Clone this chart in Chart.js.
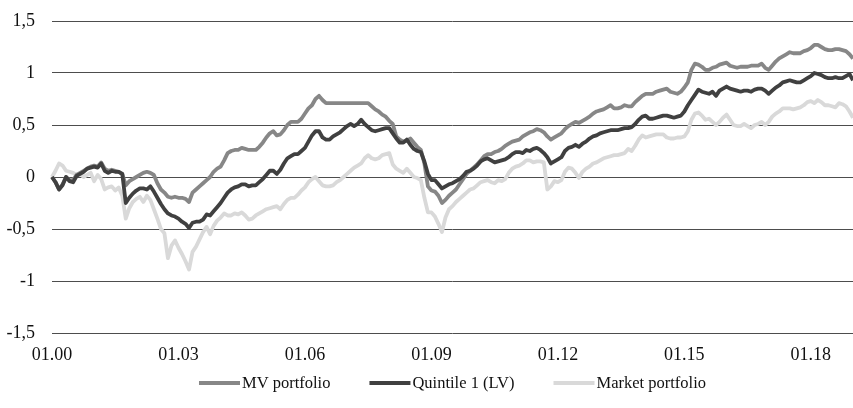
<!DOCTYPE html>
<html>
<head>
<meta charset="utf-8">
<script src="https://cdn.jsdelivr.net/npm/chart.js@4.4.0/dist/chart.umd.min.js"></script>
<style>
  body { margin: 0; background: #fff; }
  #chartBox { width: 853px; height: 408px; }
</style>
</head>
<body>
<div id="chartBox"><canvas id="myChart"></canvas></div>
<script>
// monthly data, Jan 2000 .. Jan 2019 (one row per year)
const startYear = 2000;
const tickLabels = ["01.00", "01.03", "01.06", "01.09", "01.12", "01.15", "01.18"];

const mvPortfolio = [
  0, -0.05, -0.12, -0.07, 0.00, -0.03, -0.03, 0.02, 0.04, 0.06, 0.08, 0.10,
  0.11, 0.10, 0.14, 0.08, 0.06, 0.07, 0.06, 0.05, 0.03, -0.08, -0.04, -0.02,
  0.00, 0.02, 0.04, 0.05, 0.04, 0.02, -0.06, -0.12, -0.15, -0.19, -0.20, -0.19,
  -0.20, -0.20, -0.21, -0.24, -0.15, -0.12, -0.09, -0.06, -0.03, 0.00, 0.05, 0.08,
  0.10, 0.16, 0.23, 0.25, 0.26, 0.26, 0.28, 0.27, 0.26, 0.26, 0.26, 0.29,
  0.33, 0.38, 0.42, 0.44, 0.40, 0.41, 0.45, 0.50, 0.53, 0.53, 0.53, 0.56,
  0.61, 0.66, 0.69, 0.75, 0.78, 0.74, 0.71, 0.71, 0.71, 0.71, 0.71, 0.71,
  0.71, 0.71, 0.71, 0.71, 0.71, 0.71, 0.71, 0.68, 0.65, 0.63, 0.60, 0.58,
  0.54, 0.51, 0.39, 0.36, 0.34, 0.35, 0.37, 0.33, 0.29, 0.26, 0.13, -0.09,
  -0.13, -0.14, -0.18, -0.25, -0.22, -0.18, -0.15, -0.12, -0.07, -0.02, 0.03, 0.06,
  0.09, 0.12, 0.16, 0.20, 0.22, 0.22, 0.24, 0.25, 0.27, 0.30, 0.32, 0.34,
  0.35, 0.36, 0.39, 0.41, 0.43, 0.44, 0.46, 0.45, 0.43, 0.39, 0.36, 0.38,
  0.40, 0.42, 0.46, 0.49, 0.51, 0.53, 0.52, 0.54, 0.56, 0.58, 0.61, 0.63,
  0.64, 0.65, 0.67, 0.69, 0.66, 0.66, 0.67, 0.69, 0.68, 0.68, 0.72, 0.75,
  0.78, 0.80, 0.80, 0.80, 0.82, 0.83, 0.84, 0.85, 0.82, 0.81, 0.80, 0.82,
  0.86, 0.91, 1.03, 1.09, 1.08, 1.06, 1.03, 1.03, 1.05, 1.06, 1.08, 1.09,
  1.10, 1.07, 1.06, 1.05, 1.06, 1.06, 1.06, 1.07, 1.07, 1.07, 1.09, 1.05,
  1.03, 1.07, 1.11, 1.14, 1.16, 1.18, 1.20, 1.19, 1.19, 1.19, 1.21, 1.22,
  1.24, 1.27, 1.27, 1.25, 1.23, 1.22, 1.22, 1.23, 1.23, 1.22, 1.21, 1.18,
  1.14
];

const quintile1 = [
  0, -0.05, -0.12, -0.08, 0.00, -0.04, -0.05, 0.01, 0.03, 0.05, 0.08, 0.09,
  0.10, 0.09, 0.13, 0.06, 0.04, 0.06, 0.05, 0.05, 0.03, -0.25, -0.20, -0.16,
  -0.13, -0.11, -0.11, -0.12, -0.09, -0.14, -0.20, -0.26, -0.31, -0.35, -0.37, -0.38,
  -0.40, -0.43, -0.45, -0.49, -0.44, -0.43, -0.43, -0.41, -0.36, -0.37, -0.33, -0.29,
  -0.25, -0.20, -0.15, -0.12, -0.10, -0.09, -0.07, -0.07, -0.09, -0.08, -0.08, -0.05,
  -0.02, 0.02, 0.06, 0.06, 0.03, 0.07, 0.13, 0.18, 0.20, 0.22, 0.22, 0.25,
  0.28, 0.34, 0.40, 0.44, 0.44, 0.38, 0.36, 0.36, 0.39, 0.41, 0.43, 0.46,
  0.49, 0.51, 0.49, 0.51, 0.55, 0.51, 0.48, 0.45, 0.44, 0.45, 0.46, 0.47,
  0.47, 0.42, 0.37, 0.33, 0.33, 0.36, 0.31, 0.27, 0.25, 0.24, 0.15, 0.03,
  -0.03, -0.03, -0.07, -0.11, -0.09, -0.07, -0.06, -0.04, -0.02, 0.01, 0.05, 0.06,
  0.08, 0.11, 0.15, 0.17, 0.18, 0.16, 0.14, 0.15, 0.16, 0.17, 0.19, 0.22,
  0.24, 0.24, 0.23, 0.26, 0.25, 0.27, 0.28, 0.26, 0.23, 0.19, 0.13, 0.15,
  0.17, 0.19, 0.25, 0.28, 0.29, 0.31, 0.29, 0.32, 0.34, 0.37, 0.39, 0.40,
  0.42, 0.43, 0.44, 0.45, 0.45, 0.45, 0.46, 0.47, 0.47, 0.48, 0.51, 0.55,
  0.58, 0.59, 0.56, 0.56, 0.57, 0.58, 0.59, 0.59, 0.58, 0.57, 0.58, 0.59,
  0.63, 0.69, 0.74, 0.79, 0.84, 0.82, 0.81, 0.80, 0.82, 0.78, 0.83, 0.85,
  0.87, 0.85, 0.84, 0.83, 0.82, 0.83, 0.83, 0.82, 0.84, 0.85, 0.85, 0.83,
  0.80, 0.83, 0.86, 0.88, 0.91, 0.92, 0.93, 0.92, 0.91, 0.91, 0.93, 0.95,
  0.97, 1.00, 0.99, 0.98, 0.96, 0.95, 0.95, 0.96, 0.95, 0.95, 0.97, 0.99,
  0.93
];

const marketPortfolio = [
  0, 0.06, 0.13, 0.11, 0.06, 0.05, 0.04, 0.02, 0.03, 0.00, 0.02, 0.04,
  -0.04, 0.02, -0.02, -0.12, -0.10, -0.09, -0.13, -0.10, -0.18, -0.40, -0.30, -0.24,
  -0.21, -0.19, -0.24, -0.18, -0.22, -0.31, -0.40, -0.50, -0.54, -0.78, -0.66, -0.61,
  -0.68, -0.74, -0.81, -0.89, -0.72, -0.67, -0.60, -0.53, -0.48, -0.55, -0.47, -0.42,
  -0.39, -0.35, -0.37, -0.37, -0.35, -0.36, -0.34, -0.37, -0.41, -0.40, -0.37, -0.35,
  -0.33, -0.31, -0.30, -0.29, -0.28, -0.31, -0.26, -0.22, -0.20, -0.20, -0.17, -0.13,
  -0.10, -0.05, -0.02, 0.00, -0.04, -0.08, -0.09, -0.09, -0.08, -0.05, -0.03, 0.00,
  0.03, 0.06, 0.09, 0.11, 0.13, 0.18, 0.21, 0.18, 0.17, 0.18, 0.21, 0.22,
  0.23, 0.12, 0.08, 0.06, 0.04, 0.08, 0.04, 0.00, -0.01, -0.03, -0.20, -0.34,
  -0.34, -0.38, -0.45, -0.53, -0.39, -0.31, -0.28, -0.24, -0.21, -0.18, -0.15, -0.12,
  -0.11, -0.08, -0.05, -0.04, -0.03, -0.05, -0.06, -0.03, -0.04, -0.02, 0.04, 0.08,
  0.10, 0.11, 0.13, 0.16, 0.16, 0.14, 0.15, 0.15, 0.14, -0.12, -0.09, -0.04,
  -0.05, -0.03, 0.05, 0.09, 0.08, 0.04, -0.01, 0.05, 0.08, 0.10, 0.13, 0.14,
  0.16, 0.18, 0.19, 0.20, 0.21, 0.21, 0.22, 0.23, 0.27, 0.25, 0.30, 0.36,
  0.40, 0.38, 0.39, 0.40, 0.41, 0.41, 0.41, 0.38, 0.37, 0.37, 0.38, 0.38,
  0.39, 0.44, 0.55, 0.61, 0.62, 0.59, 0.55, 0.56, 0.53, 0.50, 0.53, 0.57,
  0.60, 0.55, 0.50, 0.49, 0.49, 0.51, 0.49, 0.47, 0.50, 0.51, 0.53, 0.50,
  0.53, 0.58, 0.61, 0.63, 0.66, 0.66, 0.66, 0.65, 0.66, 0.67, 0.69, 0.72,
  0.73, 0.71, 0.74, 0.72, 0.69, 0.69, 0.68, 0.67, 0.71, 0.70, 0.68, 0.63,
  0.57
];

// category labels mm.yy
const months = [];
for (let i = 0; i < mvPortfolio.length; i++) {
  const mm = String(i % 12 + 1).padStart(2, "0");
  const yy = String((startYear + Math.floor(i / 12)) % 100).padStart(2, "0");
  months.push(mm + "." + yy);
}

const serif = "'Liberation Serif', 'DejaVu Serif', serif";
Chart.defaults.font.family = serif;
Chart.defaults.font.size = 18;
Chart.defaults.color = "#111";

function lineSet(label, data, color, order) {
  return {
    label: label,
    data: data,
    borderColor: color,
    backgroundColor: color,
    borderWidth: 3.8,
    pointRadius: 0,
    tension: 0,
    borderJoinStyle: "round",
    order: order
  };
}

// legend drawn by hand: thick line sample right next to the text
const lineLegend = {
  id: "lineLegend",
  afterDraw(chart) {
    const c = chart.ctx;
    const area = chart.chartArea;
    const sample = 41, textGap = 2, itemGap = 39;
    c.save();
    c.font = "16.5px " + serif;
    c.textBaseline = "middle";
    const items = chart.data.datasets.map(ds => ({
      label: ds.label,
      color: ds.borderColor,
      w: c.measureText(ds.label).width
    }));
    const total = items.reduce((s, it) => s + sample + textGap + it.w, 0) + itemGap * (items.length - 1);
    let x = (area.left + area.right) / 2 - total / 2;
    const y = chart.height - 25;
    items.forEach(it => {
      c.strokeStyle = it.color;
      c.lineWidth = 4;
      c.beginPath();
      c.moveTo(x, y);
      c.lineTo(x + sample, y);
      c.stroke();
      x += sample + textGap;
      c.fillStyle = "#111";
      c.fillText(it.label, x, y + 1);
      x += it.w + itemGap;
    });
    c.restore();
  }
};

const ctx = document.getElementById("myChart").getContext("2d");
new Chart(ctx, {
  type: "line",
  data: {
    labels: months,
    datasets: [
      lineSet("MV portfolio", mvPortfolio, "#878787", 1),
      lineSet("Quintile 1 (LV)", quintile1, "#404040", 0),
      lineSet("Market portfolio", marketPortfolio, "#d9d9d9", 2)
    ]
  },
  plugins: [lineLegend],
  options: {
    responsive: true,
    maintainAspectRatio: false,
    animation: false,
    layout: { autoPadding: false, padding: { left: 0, right: 0, top: 21, bottom: 45 } },
    plugins: {
      tooltip: { enabled: false },
      legend: { display: false }
    },
    scales: {
      x: {
        offset: false,
        grid: { display: false, drawTicks: false },
        border: { display: false },
        ticks: {
          autoSkip: false,
          maxRotation: 0,
          padding: 11,
          callback: function (value) {
            const lab = this.getLabelForValue(value);
            return tickLabels.includes(lab) ? lab : "";
          }
        },
        afterFit: (s) => { s.height = 30; s.paddingLeft = 0; s.paddingRight = 0; }
      },
      y: {
        min: -1.5,
        max: 1.5,
        border: { display: false },
        grid: { color: "#4d4d4d", lineWidth: 1, drawTicks: false },
        ticks: {
          stepSize: 0.5,
          padding: 17,
          callback: (v) => String(Math.abs(v) < 1e-9 ? 0 : v).replace(".", ",")
        },
        afterFit: (s) => { s.width = 52; s.paddingTop = 0; s.paddingBottom = 0; }
      }
    }
  }
});
</script>
</body>
</html>
